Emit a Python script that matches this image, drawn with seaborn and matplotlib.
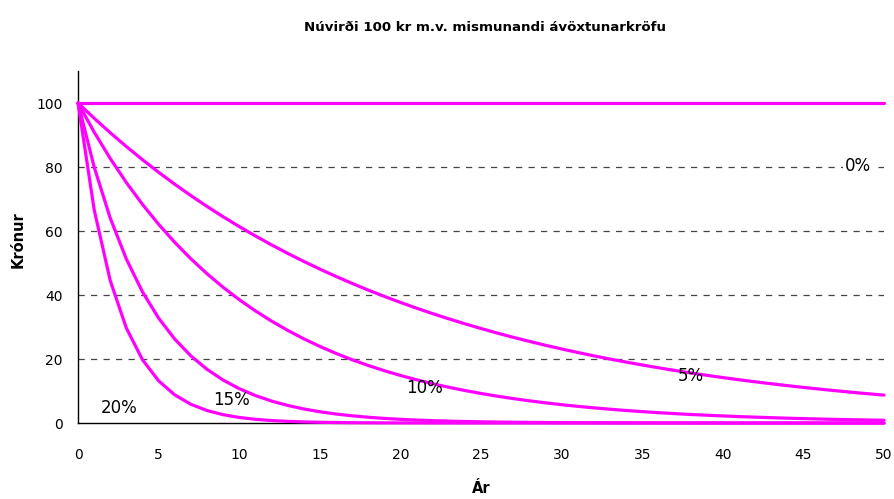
import matplotlib
matplotlib.use("Agg")
import matplotlib.pyplot as plt
import seaborn as sns
import pandas as pd

years = list(range(0, 51))

r0 = [100.0] * 51
r5 = [100, 95.24, 90.70, 86.38, 82.27, 78.35, 74.62, 71.07, 67.68, 64.46,
      61.39, 58.47, 55.68, 53.03, 50.51, 48.10, 45.81, 43.63, 41.55, 39.57,
      37.69, 35.89, 34.18, 32.56, 31.01, 29.53, 28.12, 26.78, 25.51, 24.29,
      23.14, 22.04, 20.99, 19.99, 19.04, 18.13, 17.27, 16.44, 15.66, 14.91,
      14.20, 13.53, 12.88, 12.27, 11.68, 11.13, 10.60, 10.09, 9.61, 9.15, 8.72]
r10 = [100, 90.91, 82.64, 75.13, 68.30, 62.09, 56.45, 51.32, 46.65, 42.41,
       38.55, 35.05, 31.86, 28.97, 26.33, 23.94, 21.76, 19.78, 17.99, 16.35,
       14.86, 13.51, 12.28, 11.17, 10.15, 9.23, 8.39, 7.63, 6.93, 6.30,
       5.73, 5.21, 4.74, 4.31, 3.91, 3.56, 3.23, 2.94, 2.67, 2.43,
       2.21, 2.01, 1.83, 1.66, 1.51, 1.37, 1.25, 1.13, 1.03, 0.94, 0.85]
r25 = [100, 80.0, 64.0, 51.2, 40.96, 32.77, 26.21, 20.97, 16.78, 13.42,
       10.74, 8.59, 6.87, 5.50, 4.40, 3.52, 2.81, 2.25, 1.80, 1.44,
       1.15, 0.92, 0.74, 0.59, 0.47, 0.38, 0.30, 0.24, 0.19, 0.15,
       0.12, 0.10, 0.08, 0.06, 0.05, 0.04, 0.03, 0.03, 0.02, 0.02,
       0.01, 0.01, 0.01, 0.01, 0.01, 0.0, 0.0, 0.0, 0.0, 0.0, 0.0]
r50 = [100, 66.67, 44.44, 29.63, 19.75, 13.17, 8.78, 5.85, 3.90, 2.60,
       1.73, 1.16, 0.77, 0.51, 0.34, 0.23, 0.15, 0.10, 0.07, 0.04,
       0.03, 0.02, 0.01, 0.01, 0.0, 0.0, 0.0, 0.0, 0.0, 0.0,
       0.0, 0.0, 0.0, 0.0, 0.0, 0.0, 0.0, 0.0, 0.0, 0.0,
       0.0, 0.0, 0.0, 0.0, 0.0, 0.0, 0.0, 0.0, 0.0, 0.0, 0.0]

series_names = ["0%", "5%", "10%", "25%", "50%"]
series_vals = [r0, r5, r10, r25, r50]

labels = ["0%", "5%", "10%", "15%", "20%"]
label_x = [48.4, 38.0, 21.5, 9.5, 2.55]
label_y = [80.3, 14.6, 10.9, 7.2, 4.7]

title = "Núvirði 100 kr m.v. mismunandi ávöxtunarkröfu"
xlabel = "Ár"
ylabel = "Krónur"

rows = []
for name, vals in zip(series_names, series_vals):
    for x, v in zip(years, vals):
        rows.append({"Ár": x, "Krónur": v, "rate": name})
df = pd.DataFrame(rows)

sns.set_style("white")
plt.rcParams["font.family"] = ["DejaVu Sans"]
plt.rcParams["text.color"] = "black"
plt.rcParams["axes.labelcolor"] = "black"
plt.rcParams["xtick.color"] = "black"
plt.rcParams["ytick.color"] = "black"

fig = plt.figure(figsize=(8.95, 4.99), dpi=100)
ax = fig.add_axes([0.0872, 0.1523, 0.9005, 0.7054])

sns.lineplot(data=df, x="Ár", y="Krónur", hue="rate", hue_order=series_names,
             palette=["#FF00FF"] * 5, linewidth=2.3, legend=False, ax=ax,
             zorder=3, clip_on=False)

ax.set_xlim(0, 50)
ax.set_ylim(0, 110)
ax.set_xticks(range(0, 51, 5))
ax.set_yticks(range(0, 101, 20))
for yv in [20, 40, 60, 80]:
    ax.axhline(yv, color="#444444", linestyle=(0, (5, 5)), linewidth=0.9, zorder=1)

for s in ["top", "right"]:
    ax.spines[s].set_visible(False)
for s in ["left", "bottom"]:
    ax.spines[s].set_color("black")
    ax.spines[s].set_linewidth(1.0)

ax.tick_params(axis="both", direction="inout", length=6, width=0.9,
               colors="black", labelcolor="black", labelsize=10)
ax.tick_params(axis="x", pad=15)
ax.tick_params(axis="y", pad=8)

ax.set_xlabel(xlabel, fontsize=10.5, fontweight="bold", va="center", ha="center",
              color="black")
ax.xaxis.set_label_coords(0.5, -0.185)
ax.set_ylabel(ylabel, fontsize=10.5, fontweight="bold", va="center", ha="center",
              color="black")
ax.yaxis.set_label_coords(-0.0744, 0.52)

fig.text(0.542, 0.945, title, ha="center", va="center", fontsize=9.6,
         fontweight="bold", color="black")

for t, x, y in zip(labels, label_x, label_y):
    kw = {}
    if t == "0%":
        kw["bbox"] = dict(facecolor="white", edgecolor="none", pad=1.5)
    ax.text(x, y, t, ha="center", va="center", fontsize=12, zorder=4,
            color="black", **kw)

fig.savefig("out.png", dpi=100)
